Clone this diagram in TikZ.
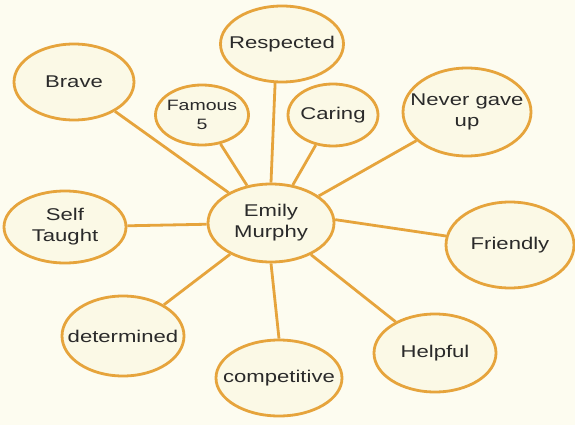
\documentclass[tikz,border=0pt]{standalone}
\usepackage{fontspec}
\setmainfont{Liberation Sans}[FakeStretch=1.3]
\usetikzlibrary{shapes.geometric}
\definecolor{paper}{HTML}{FDFCF0}
\definecolor{pencil}{HTML}{E6A43C}
\definecolor{inside}{HTML}{FBF9E6}
\definecolor{ink}{HTML}{2A2A2A}
\begin{document}
\begin{tikzpicture}[x=1pt,y=-1pt,
  bub/.style={ellipse,draw=pencil,line width=2.8pt,fill=inside,inner sep=0pt},
  txt/.style={text=ink,font=\fontsize{17}{21}\selectfont,align=center,inner sep=0pt},
  small/.style={font=\fontsize{15}{19}\selectfont},
  link/.style={draw=pencil,line width=2.8pt}]
\fill[paper] (0,0) rectangle (575,425);
\useasboundingbox (0,0) rectangle (575,425);
\node[bub,minimum width=126pt,minimum height=78pt] (c) at (271,223) {};
\node[bub,minimum width=123pt,minimum height=76pt] (r) at (282,44) {};
\node[bub,minimum width=120pt,minimum height=76pt] (b) at (74,82) {};
\node[bub,minimum width=93pt,minimum height=60pt] (f) at (202,115) {};
\node[bub,minimum width=90pt,minimum height=62pt] (ca) at (333,115) {};
\node[bub,minimum width=128pt,minimum height=88pt] (n) at (467,112) {};
\node[bub,minimum width=122pt,minimum height=72pt] (s) at (65,227) {};
\node[bub,minimum width=128pt,minimum height=86pt] (fr) at (510,245) {};
\node[bub,minimum width=122pt,minimum height=80pt] (d) at (123,336) {};
\node[bub,minimum width=122pt,minimum height=78pt] (h) at (435,353) {};
\node[bub,minimum width=126pt,minimum height=76pt] (co) at (279,378) {};
\node[txt] (c-t) at (c) {Emily\\Murphy};
\node[txt] (r-t) at (r) {Respected};
\node[txt] (b-t) at (b) {Brave};
\node[txt,small] (f-t) at (f) {Famous\\5};
\node[txt] (ca-t) at (ca) {Caring};
\node[txt] (n-t) at (n) {Never gave\\up};
\node[txt] (s-t) at (s) {Self\\Taught};
\node[txt] (fr-t) at (fr) {Friendly};
\node[txt] (d-t) at (d) {determined};
\node[txt] (h-t) at (h) {Helpful};
\node[txt] (co-t) at (co) {competitive};
\path[link] (c.north) -- (r.260);
\path[link] (c.south) -- (co.north);
\path[link] (c.3) -- (fr.172);
\foreach \t in {b,f,ca,n,s,d,h}{
  \path[link] (c) -- (\t);
}
\end{tikzpicture}
\end{document}
